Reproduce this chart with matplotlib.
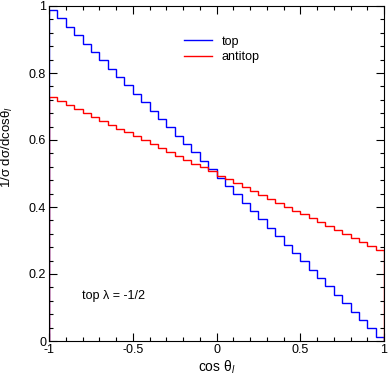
import numpy as np
import matplotlib
matplotlib.use("Agg")
import matplotlib.pyplot as plt
from matplotlib.ticker import MultipleLocator

plt.rcParams['font.family'] = ['Liberation Sans', 'DejaVu Sans']
plt.rcParams['mathtext.fontset'] = 'custom'
plt.rcParams['mathtext.rm'] = 'Liberation Sans'
plt.rcParams['mathtext.it'] = 'Liberation Sans:italic'

# bin edges of cos(theta_l), 40 bins
bin_edges = np.linspace(-1, 1, 41)

# normalised distributions
top_vals = [0.988, 0.963, 0.938, 0.913, 0.888, 0.863, 0.838, 0.813, 0.788, 0.763,
            0.738, 0.713, 0.688, 0.663, 0.638, 0.613, 0.588, 0.563, 0.538, 0.513,
            0.488, 0.463, 0.438, 0.413, 0.388, 0.363, 0.338, 0.313, 0.288, 0.263,
            0.238, 0.213, 0.188, 0.163, 0.138, 0.113, 0.088, 0.063, 0.038, 0.013]
antitop_vals = [0.728, 0.716, 0.704, 0.693, 0.681, 0.669, 0.658, 0.646, 0.634, 0.623,
                0.611, 0.599, 0.588, 0.576, 0.564, 0.553, 0.541, 0.529, 0.518, 0.506,
                0.494, 0.483, 0.471, 0.459, 0.448, 0.436, 0.424, 0.413, 0.401, 0.389,
                0.378, 0.366, 0.354, 0.343, 0.331, 0.319, 0.308, 0.296, 0.284, 0.273]

xticks = [-1, -0.5, 0, 0.5, 1]
xtick_labels = ['-1', '-0.5', '0', '0.5', '1']
yticks = [0, 0.2, 0.4, 0.6, 0.8, 1]
ytick_labels = ['0', '0.2', '0.4', '0.6', '0.8', '1']

fig = plt.figure(figsize=(3.89, 3.82), dpi=100)
ax = fig.add_axes([49 / 389, 1 - 341 / 382, 335 / 389, 335 / 382])

ax.stairs(top_vals, bin_edges, color='#0000ff', lw=1.0, label='top')
ax.stairs(antitop_vals, bin_edges, color='#ff0000', lw=1.0, label='antitop')

ax.set_xlim(-1, 1)
ax.set_ylim(0, 1)
ax.set_xticks(xticks, xtick_labels)
ax.set_yticks(yticks, ytick_labels)
ax.xaxis.set_minor_locator(MultipleLocator(0.1))
ax.yaxis.set_minor_locator(MultipleLocator(0.04))
ax.tick_params(which='both', direction='in', top=True, right=True, labelsize=9, pad=2)
ax.tick_params(which='major', length=6, width=0.8)
ax.tick_params(which='minor', length=3, width=0.8)

ax.set_xlabel(r'cos θ$_{\mathit{l}}$', fontsize=10, labelpad=2)
ax.set_ylabel(r'1/σ dσ/dcosθ$_{\mathit{l}}$', fontsize=9.5)
ax.yaxis.set_label_coords(-0.10, 0.58)

ax.legend(loc='upper left', bbox_to_anchor=(0.37, 0.945), frameon=False, fontsize=9,
          handlelength=2.2, handletextpad=0.8, labelspacing=0.3)
ax.text(0.1, 0.135, 'top λ = -1/2', transform=ax.transAxes, fontsize=9, va='center')

fig.savefig('out.png', dpi=100)
